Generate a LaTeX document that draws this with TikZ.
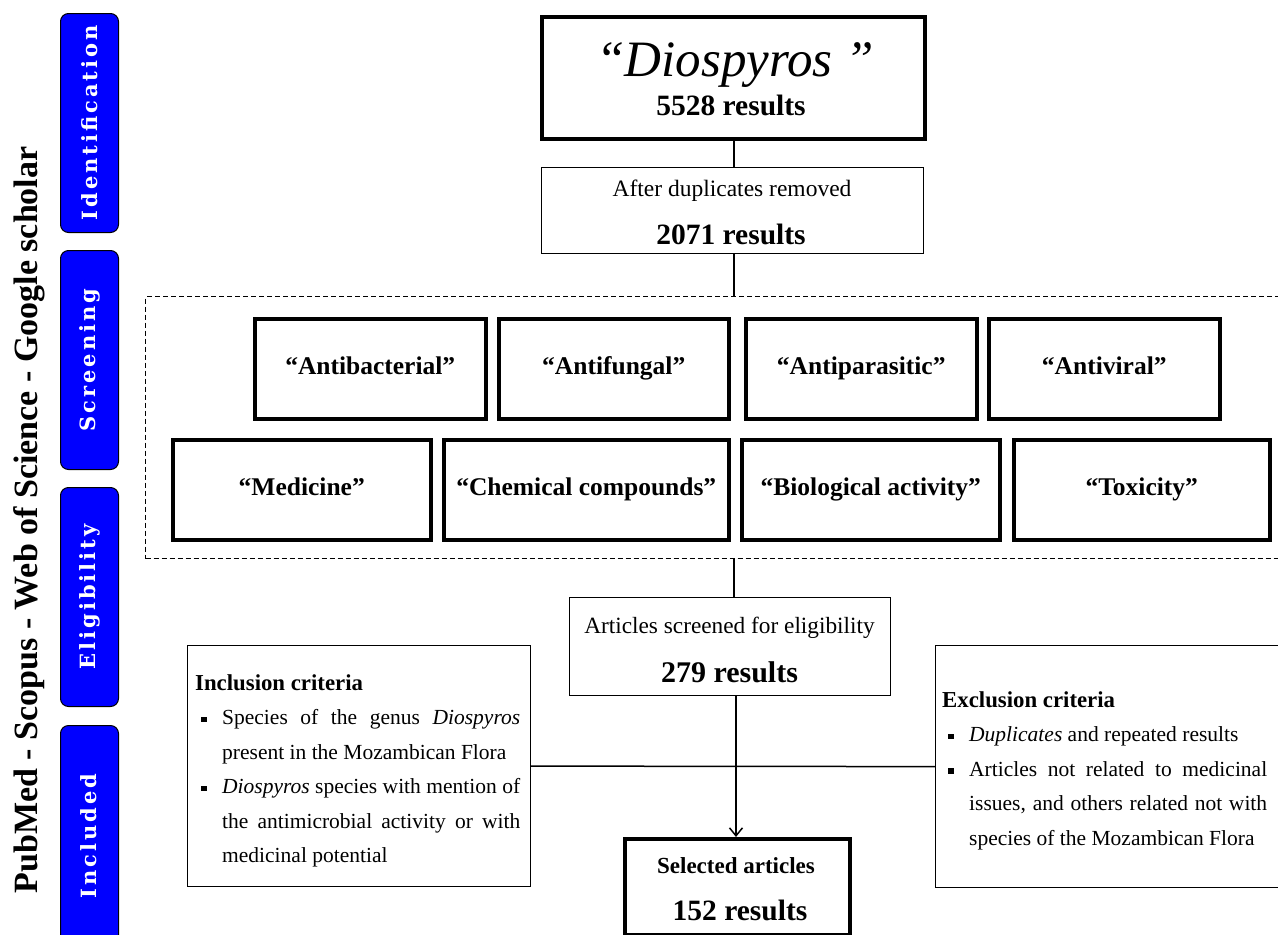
\documentclass[tikz,border=0pt]{standalone}
\usepackage{fontspec}
\setmainfont{Liberation Serif}
\newfontfamily\tabfont[LetterSpace=14]{DejaVu Serif}
\usetikzlibrary{arrows.meta}
\definecolor{tabblue}{RGB}{0,0,255}
\newcommand\sqbul{\hangindent=27pt\hangafter=1\noindent\makebox[27pt][l]{\hspace{6pt}\rule[2.5pt]{5.5pt}{5.5pt}}}
\tikzset{
  thickbox/.style={draw, line width=4pt, inner sep=0pt, anchor=north west},
  termbox/.style={draw, line width=3.5pt, inner sep=0pt, anchor=north west, minimum height=100pt, text height=17pt, text depth=5pt, font=\fontsize{25.5}{30}\selectfont\bfseries},
  thinbox/.style={draw, line width=1.2pt, inner sep=0pt, anchor=north west},
  dashbox/.style={draw, line width=1pt, dash pattern=on 5pt off 3pt, inner sep=0pt, anchor=north west},
  tabbox/.style={draw=black, line width=1pt, fill=tabblue, rounded corners=8pt, inner sep=0pt, anchor=north west, minimum width=58pt, minimum height=219pt},
  tabtext/.style={text=white, rotate=90, inner sep=0pt, font=\tabfont\fontsize{21}{24}\selectfont\bfseries},
  conn/.style={line width=1.5pt},
  crit/.style={anchor=north west, inner sep=0pt, text width=325pt, align=justify, font=\fontsize{21.5}{34.5}\selectfont},
}
\begin{document}
\begin{tikzpicture}[x=1pt,y=-1pt]
\useasboundingbox (0,0) rectangle (1278,935);
\clip (0,0) rectangle (1278,935);
\fill[white] (0,0) rectangle (1278,935);

% side label
\node[rotate=90, anchor=base, inner sep=0pt, font=\fontsize{34}{40}\selectfont\bfseries] (dbs) at (37,520) {PubMed - Scopus - Web of Science - Google scholar};

% tabs
\node[tabbox] (tid) at (60,13) {};
\node[tabtext] (tidt) at (tid.center) {Identification};
\node[tabbox] (tsc) at (60,250) {};
\node[tabtext] (tsct) at (tsc.center) {Screening};
\node[tabbox] (tel) at (60,487) {};
\node[tabtext] (telt) at (tel.center) {Eligibility};
\node[tabbox] (tin) at (60,725) {};
\node[tabtext] (tint) at (89,836) {Included};

% top boxes
\node[thickbox, minimum width=383pt, minimum height=122pt] (dios) at (540,15) {};
\node[anchor=base, inner sep=0pt, font=\fontsize{51}{60}\selectfont\itshape] (diost) at (735,76) {“Diospyros ”};
\node[anchor=base, inner sep=0pt, font=\fontsize{29.5}{35}\selectfont\bfseries] (diosn) at (731,115) {5528 results};

\node[thinbox, minimum width=382pt, minimum height=86pt] (dup) at (541,167) {};
\node[anchor=base, inner sep=0pt, font=\fontsize{23.5}{28}\selectfont] (dupt) at (732,196) {After duplicates removed};
\node[anchor=base, inner sep=0pt, font=\fontsize{29.5}{35}\selectfont\bfseries] (dupn) at (731,244) {2071 results};

% dashed group
\node[dashbox, minimum width=1160pt, minimum height=262pt] (grp) at (145,296) {};
\coordinate (axis) at (734,0);
\coordinate (axisb) at (736,0);

% term boxes
\node[termbox, minimum width=231pt] (t1) at (253,317) {“Antibacterial”};
\node[termbox, minimum width=230pt] (t2) at (497,317) {“Antifungal”};
\node[termbox, minimum width=231pt] (t3) at (744,317) {“Antiparasitic”};
\node[termbox, minimum width=231pt] (t4) at (987,317) {“Antiviral”};
\node[termbox, minimum width=258pt] (t5) at (171,438) {“Medicine”};
\node[termbox, minimum width=285pt] (t6) at (442,438) {“Chemical compounds”};
\node[termbox, minimum width=258pt] (t7) at (740,438) {“Biological activity”};
\node[termbox, minimum width=256pt] (t8) at (1012,438) {“Toxicity”};

% articles screened
\node[thinbox, minimum width=321pt, minimum height=98pt] (art) at (569,597) {};
\node[anchor=base, inner sep=0pt, font=\fontsize{23.3}{28}\selectfont] (artt) at (729.5,633) {Articles screened for eligibility};
\node[anchor=base, inner sep=0pt, font=\fontsize{30}{35}\selectfont\bfseries] (artn) at (729.5,682) {279 results};

% criteria
\node[thinbox, minimum width=343pt, minimum height=241pt] (incl) at (187,645) {};
\node[crit] (inclt) at (195,674.4) {\noindent{\fontsize{22.8}{34.5}\selectfont\bfseries Inclusion criteria}\par
\sqbul Species of the genus \textit{Diospyros}\linebreak present in the Mozambican Flora\par
\sqbul \textit{Diospyros} species with mention of\linebreak the antimicrobial activity or with\linebreak medicinal potential\par};

\node[thinbox, minimum width=365pt, minimum height=242pt] (excl) at (935,645) {};
\node[crit] (exclt) at (942,691.4) {\noindent{\fontsize{22.8}{34.5}\selectfont\bfseries Exclusion criteria}\par
\sqbul \textit{Duplicates} and repeated results\par
\sqbul Articles not related to medicinal\linebreak issues, and others related not with\linebreak species of the Mozambican Flora\par};

% selected
\node[thickbox, minimum width=225pt, minimum height=96pt] (sel) at (623,837) {};
\node[anchor=base, inner sep=0pt, font=\fontsize{23}{28}\selectfont\bfseries] (selt) at (736,873) {Selected articles};
\node[anchor=base, inner sep=0pt, font=\fontsize{29.5}{35}\selectfont\bfseries] (seln) at (740,920) {152 results};

% connectors
\draw[conn] (dios.south -| axis) -- (dup.north -| axis);
\draw[conn] (dup.south -| axis) -- (grp.north -| axis);
\draw[conn] (grp.south -| axis) -- (art.north -| axis);
\draw[conn] (incl.east) -- (excl.west);
\draw[conn, -{Straight Barb[length=8pt, width=13pt, line width=1.5pt]}] (art.south -| axisb) -- (sel.north -| axisb);
\end{tikzpicture}
\end{document}
